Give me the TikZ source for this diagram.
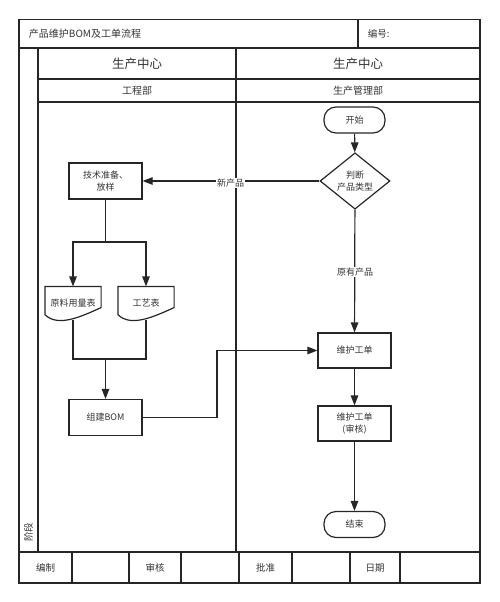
\documentclass[tikz,border=0pt]{standalone}
\usepackage{fontspec}
\setmainfont{Noto Sans CJK SC}
\usetikzlibrary{arrows.meta,shapes.geometric}

\begin{document}
\begin{tikzpicture}[x=1pt,y=-1pt,line width=1.2pt,draw=black!85,text=black!80,
    box/.style={draw,minimum width=73pt,minimum height=36pt,font=\fontsize{9}{12}\selectfont,align=center},
    term/.style={draw,rounded corners=12pt,minimum width=61pt,minimum height=26pt,font=\fontsize{9}{12}\selectfont},
    decide/.style={draw,diamond,minimum width=70pt,minimum height=54pt,inner sep=0pt,font=\fontsize{9}{12}\selectfont,align=center},
    doc/.style={minimum width=55pt,minimum height=32pt,font=\fontsize{9}{12}\selectfont},
    arr/.style={-{Triangle[length=10pt,width=7.5pt]}},
    lbl/.style={fill=white,inner sep=1pt,font=\fontsize{9}{12}\selectfont},
    cell/.style={font=\fontsize{9.5}{12}\selectfont}]

  \useasboundingbox (0,0) rectangle (500,602);

  \def\left{19}
  \def\right{480}
  \def\top{19.5}
  \def\bottom{583}
  \def\lane{236}
  \def\foot{552}

  % frame
  \draw[line width=1.3pt] (\left,\top) rectangle (\right,\bottom);
  \draw (\left,48) -- (\right,48);
  \draw (358,\top) -- (358,48);
  \draw (38,48) -- (38,\foot);
  \draw (38,79) -- (\right,79);
  \draw (38,102) -- (\right,102);
  \draw (\lane,48) -- (\lane,\foot);
  \draw (\left,\foot) -- (\right,\foot);
  \foreach \x in {72,129,181,239,292,350,400} {
    \draw (\x,\foot) -- (\x,\bottom);
  }

  \node[cell,anchor=west,font=\fontsize{10}{12}\selectfont] (title) at (25,34) {产品维护BOM及工单流程};
  \node[cell,anchor=west] (number) at (364,34) {编号:};
  \node[font=\fontsize{12.5}{14}\selectfont] (centerA) at (137,64) {生产中心};
  \node[font=\fontsize{12.5}{14}\selectfont] (centerB) at (358,64) {生产中心};
  \node[font=\fontsize{10}{12}\selectfont] (deptA) at (137,91) {工程部};
  \node[font=\fontsize{10}{12}\selectfont] (deptB) at (358,91) {生产管理部};
  \node[cell,rotate=90] (stage) at (28.5,532) {阶段};
  \foreach \x/\t/\n in {45.5/编制/sign,155/审核/check,265.5/批准/approve,375/日期/date} {
    \node[cell] (\n) at (\x,567.5) {\t};
  }

  % flow
  \node[term] (start) at (354.5,120) {开始};
  \node[decide] (judge) at (355,181) {判断\\产品类型};
  \node[box] (prep) at (105.5,181) {技术准备、\\放样};
  \node[doc] (material) at (73,303) {原料用量表};
  \node[doc] (process) at (146,303) {工艺表};
  \node[box] (bom) at (105.5,417.5) {组建BOM};
  \node[box,minimum height=35pt] (order) at (354.5,350.5) {维护工单};
  \node[box,minimum height=35pt] (review) at (354.5,423.5) {维护工单\\(审核)};
  \node[term] (finish) at (354.5,524.5) {结束};

  \foreach \n in {material,process} {
    \draw (\n.north west) -- (\n.north east) -- ([yshift=12pt]\n.south east)
      .. controls +(-20,9) and +(13,13) .. ([yshift=5pt]\n.south west) -- cycle;
  }

  \coordinate (fork) at (105.5,242);
  \coordinate (merge) at (105.5,359);
  \coordinate (bend) at (217,350.5);

  \draw[arr] (start) -- (judge);
  \draw[arr] (judge) -- (prep);
  \draw (prep) -- (fork);
  \draw[arr] (fork) -| (material);
  \draw[arr] (fork) -| (process);
  \draw (material.south) |- (merge);
  \draw (process.south) |- (merge);
  \draw[arr] (merge) -- (bom);
  \draw[arr] (bom) -| (bend) -- (order);
  \draw[arr] (judge) -- (order);
  \draw[arr] (order) -- (review);
  \draw[arr] (review) -- (finish);

  \node[lbl] (newlbl) at (230.5,183) {新产品};
  \node[lbl] (oldlbl) at (355,272) {原有产品};
\end{tikzpicture}
\end{document}
